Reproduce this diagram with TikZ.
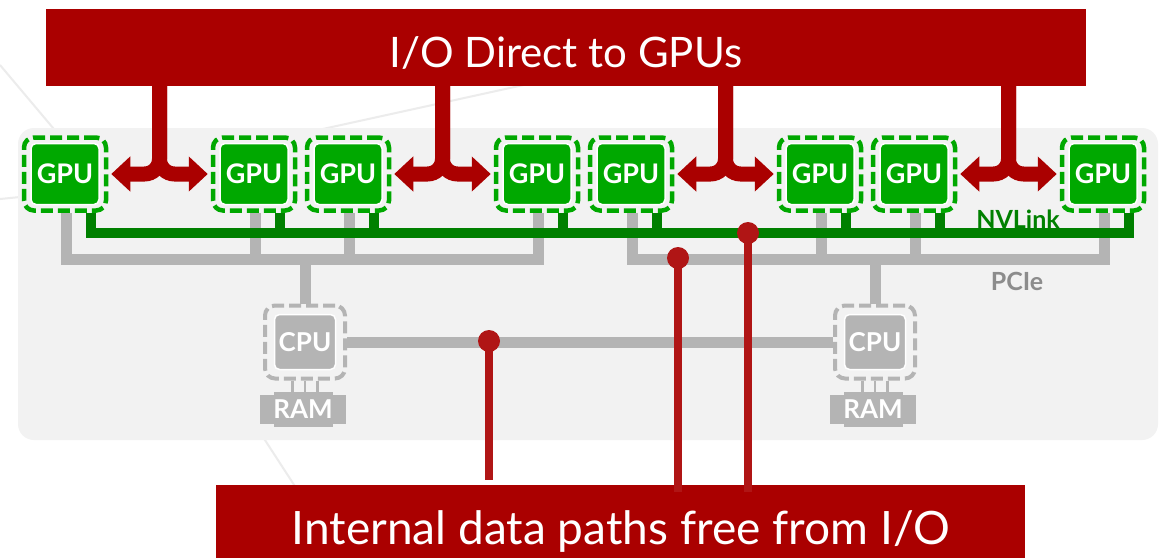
\documentclass[tikz,border=0pt]{standalone}
\usepackage{fontspec}
\setmainfont{Lato}
\usetikzlibrary{arrows.meta,calc}
\definecolor{bannerred}{HTML}{AA0000}
\definecolor{redline}{HTML}{B01515}
\definecolor{chip}{HTML}{00A800}
\definecolor{nvgreen}{HTML}{008000}
\definecolor{pcigray}{HTML}{B4B4B4}
\definecolor{panelgray}{HTML}{F2F2F2}
\definecolor{labelgray}{HTML}{8C8C8C}
\definecolor{faint}{HTML}{ECECEC}
\begin{document}
\begin{tikzpicture}[x=1pt, y=-1pt,
  banner/.style={fill=bannerred, inner sep=0pt},
  bannertext/.style={text=white, inner sep=0pt, font=\fontsize{42pt}{50pt}\selectfont},
  gpuframe/.style={draw=chip, line width=4.5pt, dash pattern=on 12pt off 5pt,
    rounded corners=10pt, minimum width=82pt, minimum height=73pt, inner sep=0pt},
  gpuchip/.style={fill=chip, draw=white, line width=1.5pt, rounded corners=5pt,
    minimum width=68pt, minimum height=61pt, inner sep=0pt, text=white,
    font=\bfseries\fontsize{27pt}{30pt}\selectfont},
  cpuframe/.style={draw=pcigray, line width=4pt, dash pattern=on 12pt off 5pt,
    rounded corners=10pt, minimum width=80pt, minimum height=73pt, inner sep=0pt},
  cpuchip/.style={fill=pcigray, draw=white, line width=1.5pt, rounded corners=5pt,
    minimum width=61pt, minimum height=55pt, inner sep=0pt, text=white,
    font=\bfseries\fontsize{26pt}{30pt}\selectfont},
  ram/.style={fill=pcigray, minimum width=86pt, minimum height=29pt, inner sep=0pt,
    text=white, font=\bfseries\fontsize{26pt}{30pt}\selectfont},
  pin/.style={draw=pcigray, line width=2.5pt},
  nvlink/.style={draw=nvgreen, line width=10pt},
  pcie/.style={draw=pcigray, line width=11pt},
  bigarrow/.style={draw=bannerred, line width=15pt, rounded corners=15pt,
    -{Triangle[length=19pt,width=34pt]}, shorten >=3pt},
  reddot/.style={circle, fill=redline, minimum size=22pt, inner sep=0pt},
  redpath/.style={draw=redline, line width=8pt},
  buslabel/.style={inner sep=0pt, font=\bfseries\fontsize{25pt}{30pt}\selectfont}
]
\useasboundingbox (0,0) rectangle (1167,558);
\fill[white] (0,0) rectangle (1167,558);

% faint background strokes
\draw[faint, line width=2pt] (0,65) -- (80,160);
\draw[faint, line width=2pt] (0,199) -- (60,193);
\draw[faint, line width=2pt] (300,134) -- (560,77);
\draw[faint, line width=2pt] (250,417) -- (300,494);

% system board
\fill[panelgray, rounded corners=16pt] (18,128) rectangle (1158,440);

% banners
\node[banner, minimum width=1040pt, minimum height=77pt] (top) at (566,47.5) {};
\node[bannertext, anchor=base] (toptext) at (566,67) {I/O Direct to GPUs};
\node[banner, minimum width=809pt, minimum height=73pt] (bot) at (620.5,521.5) {};
\node[bannertext, anchor=base, font=\fontsize{46pt}{52pt}\selectfont] (bottext) at (621,544) {Internal data paths free from I/O};

% GPUs
\foreach \i/\x in {1/65,2/254,3/348,4/537,5/631,6/820,7/914,8/1103}{
  \node[gpuframe] (g\i) at (\x,174) {};
  \node[gpuchip] (g\i c) at (g\i) {GPU};
  \coordinate (g\i p) at ([xshift=1pt]g\i.south);
  \coordinate (g\i n) at ([xshift=26pt]g\i.south);
}

% CPUs and memory
\coordinate (r1) at (303,409.5);
\coordinate (r2) at (873,409.5);
\fill[pcigray] (r1) +(-29.5,-17.5) rectangle +(29.5,17.5);
\fill[pcigray] (r2) +(-29.5,-17.5) rectangle +(29.5,17.5);
\node[ram] (ram1) at (r1) {RAM};
\node[ram] (ram2) at (r2) {RAM};
\node[cpuframe] (c1) at (305,342) {};
\node[cpuchip] (c1c) at (c1) {CPU};
\node[cpuframe] (c2) at (875,342) {};
\node[cpuchip] (c2c) at (c2) {CPU};
\foreach \c/\r in {c1/ram1, c2/ram2}{
  \foreach \dx in {-12.5,0,12.5}{
    \draw[pin] ([xshift=\dx pt]\c.south) -- ([xshift=\dx pt]\c.south |- \r.north);
  }
}

% bus levels
\coordinate (nvl) at (0,233);
\coordinate (pcil) at (0,259);

% PCIe trees
\draw[pcie] (g1p) |- (g4p |- pcil) -- (g4p);
\draw[pcie] (g5p) |- (g8p |- pcil) -- (g8p);
\foreach \i in {2,3,6,7}{ \draw[pcie] (g\i p) -- (g\i p |- pcil); }
\draw[pcie] (c1.north |- pcil) -- (c1.north);
\draw[pcie] (c2.north |- pcil) -- (c2.north);
\draw[pcie] (c1.east) -- (c2.west);

% NVLink fabric
\draw[nvlink] (g1n) |- (g8n |- nvl) -- (g8n);
\foreach \i in {2,...,7}{ \draw[nvlink] (g\i n) -- (g\i n |- nvl); }

\node[buslabel, text=nvgreen, anchor=base] (nvlabel) at (1018,228) {NVLink};
\node[buslabel, text=labelgray, anchor=base] (pcilabel) at (1017,290) {PCIe};

% direct I/O into each GPU pair
\foreach \a/\b in {1/2,3/4,5/6,7/8}{
  \coordinate (m\a) at ($(g\a.east)!0.5!(g\b.west)$);
  \draw[bigarrow] (top.south -| m\a) |- (g\a.east);
  \draw[bigarrow] (top.south -| m\a) |- (g\b.west);
}

% internal data paths
\coordinate (e1) at (489,480);
\coordinate (e2) at (678,492);
\coordinate (e3) at (748,492);
\node[reddot] (d1) at (489,341) {};
\node[reddot] (d2) at (678,258) {};
\node[reddot] (d3) at (748,233) {};
\draw[redpath] (d1.center) -- (e1);
\draw[redpath] (d2.center) -- (e2);
\draw[redpath] (d3.center) -- (e3);
\end{tikzpicture}
\end{document}
